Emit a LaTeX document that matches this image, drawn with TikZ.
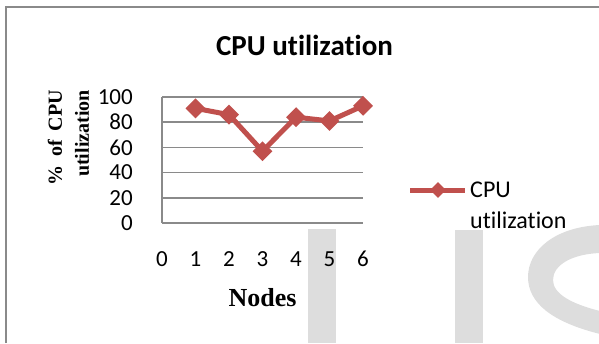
\documentclass[tikz,border=0pt]{standalone}
\usepackage{fontspec}
\setmainfont{Carlito}[Ligatures=NoCommon]
\newfontfamily\timesfont{Liberation Serif}
\usetikzlibrary{shapes.geometric}
\definecolor{cpured}{RGB}{192,80,77}
\definecolor{framegray}{RGB}{138,138,138}
\definecolor{markgray}{RGB}{221,221,221}
\begin{document}
\begin{tikzpicture}[x=1bp,y=-1bp,
    ticklabel/.style={font=\fontsize{23bp}{28bp}\selectfont,inner sep=0},
    axislabel/.style={font=\timesfont\bfseries\fontsize{20bp}{24bp}\selectfont,inner sep=0,rotate=90,anchor=east},
    datapt/.style={diamond,fill=cpured,minimum size=20bp,inner sep=0},
    gridline/.style={framegray,line width=1.5bp},
    series/.style={cpured,line width=5bp,line join=round}]
    \useasboundingbox (0,0) rectangle (599,343);
    % watermark
    \fill[markgray] (308,229) rectangle (336,343);
    \fill[markgray] (455,230) rectangle (483,343);
    \fill[markgray] (600,225) .. controls (555,227) and (528,250) .. (528,277) .. controls (528,303) and (552,322) .. (600,334) -- (600,311) .. controls (572,304) and (553,294) .. (553,280) .. controls (553,265) and (572,254) .. (600,253) -- cycle;
    % frame
    \draw[framegray,line width=2bp] (6,343) -- (6,7) -- (599,7);
    % title
    \node[font=\bfseries\fontsize{29bp}{34bp}\selectfont,inner sep=0,anchor=base] (title) at (304.5,55) {CPU utilization};
    % grid and y axis
    \foreach \v in {0,20,...,100}{
        \draw[gridline] (162,223-1.26*\v) -- (363,223-1.26*\v);
        \node[ticklabel,anchor=east] (y\v) at (133,223-1.26*\v) {\v};
    }
    \draw[gridline] (162,97) -- (162,223);
    \foreach \n in {0,...,6}{
        \node[ticklabel] (x\n) at (162+33.5*\n,259) {\n};
    }
    \node[axislabel] (ylabA) at (55,90) {\makebox[95bp][s]{\% of CPU}};
    \node[axislabel] (ylabB) at (82,90) {utilization};
    \node[font=\timesfont\bfseries\fontsize{26bp}{30bp}\selectfont,inner sep=0,anchor=base] (xlab) at (262.5,306) {Nodes};
    % data
    \node[datapt] (p1) at (195.5,223-1.26*91) {};
    \node[datapt] (p2) at (229,223-1.26*86) {};
    \node[datapt] (p3) at (262.5,223-1.26*57) {};
    \node[datapt] (p4) at (296,223-1.26*84) {};
    \node[datapt] (p5) at (329.5,223-1.26*81) {};
    \node[datapt] (p6) at (363,223-1.26*93) {};
    \draw[series] (p1.center) -- (p2.center) -- (p3.center) -- (p4.center) -- (p5.center) -- (p6.center);
    % legend
    \coordinate (legA) at (410,190);
    \coordinate (legB) at (465,190);
    \draw[series] (legA) -- (legB);
    \node[diamond,fill=cpured,minimum size=16bp,inner sep=0] (legM) at (438,190) {};
    \node[font=\fontsize{24bp}{30bp}\selectfont,inner sep=0,anchor=base west] (legT1) at (470,197) {CPU};
    \node[font=\fontsize{24bp}{30bp}\selectfont,inner sep=0,anchor=base west] (legT2) at (470,228) {utilization};
\end{tikzpicture}
\end{document}
